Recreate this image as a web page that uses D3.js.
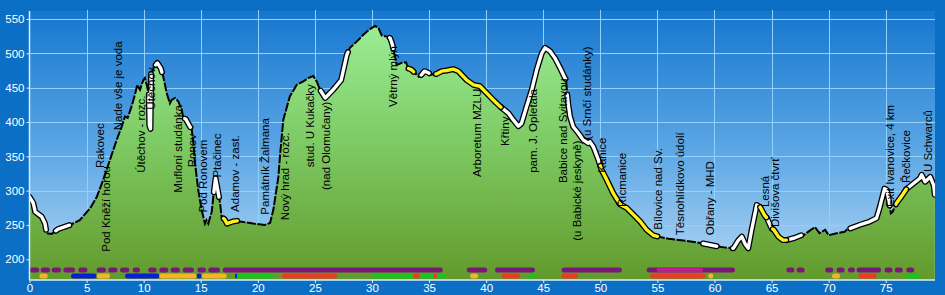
<!DOCTYPE html>
<html>
<head>
<meta charset="utf-8">
<script src="https://cdn.jsdelivr.net/npm/d3@7"></script>
<style>
  body { margin: 0; background: #0b6fc5; }
  svg { display: block; }
  text { font-family: "Liberation Sans", Arial, sans-serif; }
</style>
</head>
<body>
<script>
// profile of the route: distance (km) and elevation (m)
var trackKm = [0, 0.33, 0.5, 1.07, 1.36, 1.5, 1.94, 2.5, 3.0, 3.55, 4.4, 5.3, 5.9, 6.46, 7.05, 7.64,
  8.07, 8.37, 8.6, 8.95, 9.24, 9.44, 9.68, 9.97, 10.1, 10.3, 10.45, 10.5, 10.6, 10.65, 10.9, 11.2,
  11.5, 11.72, 12.02, 12.3, 12.45, 12.75, 13.03, 13.33, 13.47, 13.7, 14.06, 14.2, 14.35, 14.5, 14.78,
  15.08, 15.37, 15.5, 15.66, 15.96, 16.1, 16.3, 16.5, 16.69, 16.83, 17.1, 17.3, 17.8, 18.2, 18.44,
  19.6, 20.6, 21.07, 21.36, 21.8, 21.94, 22.23, 22.8, 23.4, 23.98, 24.4, 24.86, 25.16, 25.45, 25.9,
  26.6, 27.3, 27.8, 28.07, 28.66, 29.24, 29.8, 30.26, 30.56, 30.85, 31.4, 31.6, 31.8, 31.87, 32.02,
  32.16, 32.6, 32.98, 33.18, 33.48, 33.77, 34.1, 34.35, 34.6, 34.9, 35.2, 35.65, 36.1, 36.54, 37.12,
  37.56, 38.3, 38.9, 39.46, 40.05, 40.63, 41.2, 41.94, 42.38, 42.82, 43.1, 43.55, 44.0, 44.43, 44.87,
  45.16, 45.6, 46.03, 46.47, 46.9, 47.0, 47.1, 47.2, 47.35, 47.63, 48.07, 48.5, 48.95, 49.1, 49.39,
  49.83, 50.12, 50.56, 51.14, 51.73, 52.3, 52.9, 53.5, 54.06, 54.64, 55.08, 56.0, 57.5, 59.0, 60.2,
  61.0, 61.65, 62.1, 62.4, 62.7, 62.96, 63.26, 63.7, 64.0, 64.4, 64.6, 65.0, 65.2, 65.6, 66.0, 66.3,
  67.0, 67.6, 67.8, 68.2, 68.8, 69.2, 69.7, 70.0, 70.7, 71.4, 71.7, 71.9, 72.7, 73.6, 74.2, 74.5,
  74.9, 75.1, 75.3, 75.45, 75.6, 75.95, 76.4, 76.8, 77.4, 78.0, 78.15, 78.45, 78.9, 79.2, 79.3];
var trackElev = [291, 282, 269, 262, 252, 238, 237, 244, 247, 250, 257, 274, 291, 316, 345, 374,
  393, 408, 406, 423, 440, 454, 447, 461, 464, 452, 440, 395, 390, 470, 480, 486,
  478, 466, 442, 427, 432, 435, 430, 418, 406, 404, 393, 391, 370, 340, 301,
  272, 252, 257, 252, 269, 291, 318, 300, 282, 262, 258, 252, 255, 256, 255,
  252, 250, 253, 272, 320, 350, 403, 437, 454, 459, 464, 467, 459, 447, 435,
  447, 461, 498, 508, 517, 527, 535, 540, 537, 526, 524, 522, 512, 505, 495,
  483, 486, 487, 478, 476, 471, 466, 469, 474, 472, 469, 470, 474, 475, 477,
  474, 461, 454, 452, 442, 432, 423, 413, 403, 394, 398, 423, 447, 476, 500,
  508, 503, 493, 479, 464, 462, 440, 425, 408, 393, 384, 374, 369, 371, 364,
  345, 330, 316, 296, 280, 275, 265, 255, 243, 235, 233, 230, 227, 223, 219,
  217, 216, 228, 233, 222, 216, 243, 279, 276, 264, 260, 245, 243, 233, 228, 228,
  231, 235, 235, 240, 247, 238, 243, 235, 238, 240, 245, 245, 250, 255, 260, 277,
  303, 301, 284, 267, 269, 282, 292, 302, 310, 318, 323, 313, 320, 308, 294];

// surface of the road along the profile (km from, km to)
var pavedRanges = [[0, 1.45], [2.3, 3.5], [10.45, 10.65], [11.05, 11.6], [13.6, 14.1], [16.15, 16.6],
  [25.5, 27.9], [31.55, 31.85], [34.3, 35.0], [41.3, 46.95], [47.1, 50.0], [59.0, 60.2],
  [61.6, 64.0], [64.55, 65.1], [66.3, 67.6], [71.9, 75.35], [76.8, 79.3]];
var gravelRanges = [[17.0, 18.2], [33.2, 33.65], [35.6, 41.3], [50.0, 55.0], [64.0, 64.55],
  [65.1, 66.3], [75.9, 76.8]];

// trail markings under the profile
var cycleRows = [[0, 0.86, "cycle"], [0.98, 1.8, "cycle"], [1.94, 2.76, "cycle"], [2.96, 3.99, "cycle"],
  [4.28, 5.07, "cycle"], [5.88, 6.7, "cycle"], [6.9, 7.7, "cycle"], [7.93, 8.74, "cycle"],
  [9.04, 9.68, "cycle"], [10.4, 11.14, "cycle"], [11.37, 12.16, "cycle"], [12.37, 13.18, "cycle"],
  [13.42, 14.41, "cycle"], [14.7, 15.46, "cycle"], [15.66, 16.69, "cycle"], [16.92, 36.2, "cycle"],
  [38.3, 40.1, "cycle"], [40.78, 44.28, "cycle"], [46.6, 51.9, "cycle"], [54.06, 61.8, "cycle"],
  [54.94, 59.0, "cycle2"], [66.3, 67.0, "cycle"], [67.2, 67.9, "cycle"], [69.7, 70.4, "cycle"],
  [70.7, 71.4, "cycle"], [71.7, 72.3, "cycle"], [72.45, 74.6, "cycle"], [74.9, 75.6, "cycle"],
  [75.8, 76.5, "cycle"], [76.8, 77.5, "cycle"]];
var hikeRows = [[0.86, 1.59, "yellow"], [3.64, 5.88, "blue"], [5.88, 7.05, "yellow"],
  [8.37, 11.37, "blue"], [11.37, 14.64, "yellow"], [14.64, 15.08, "blue"], [15.08, 17.27, "yellow"],
  [18.0, 18.2, "blue"], [18.2, 21.36, "green"], [22.1, 26.96, "red"], [29.97, 33.6, "green"],
  [33.6, 34.2, "red"], [34.2, 35.4, "green"], [35.4, 35.7, "red"], [35.7, 36.5, "green"],
  [38.6, 39.3, "yellow"], [41.36, 42.97, "red"], [43.7, 44.4, "green"], [46.6, 48.07, "red"],
  [54.35, 59.2, "red"], [59.46, 59.9, "yellow"], [70.3, 71.0, "yellow"], [72.6, 74.2, "red"],
  [76.67, 78.0, "green"]];

// waypoints: name, km, elevation where the label starts
var wpName = ["Rakovec", "Pod Kněží horou", "Nade vše je voda", "Útěchov - rozc.", "Útěchov",
  "Mufloní studánka", "Ronov", "Pod Ronovem", "Ptačinec", "Adamov - zast.", "Památník Žalmana",
  "Nový hrad - rozc.", "stud. U Kukačky", "(nad Olomučany)", "Větrný mlýn", "Arboretum MZLU",
  "Křtiny", "pam. J. Opletala", "Babice nad Svitavou", "(u Babické jeskyně)", "(u Srnčí studánky)",
  "Kanice", "Řícmanice", "Bílovice nad Sv.", "Těsnohlídkovo údolí", "Obřany - MHD", "Lesná",
  "Divišova čtvrť", "Exit Ivanovice, 4 km", "Řečkovice", "U Schwarců"];
var wpKm = [6.18, 6.7, 7.75, 9.77, 10.64, 13.0, 14.23, 15.2, 16.42, 18.0, 20.63, 22.38, 24.57, 25.97,
  31.84, 39.2, 41.65, 44.1, 46.73, 47.96, 48.84, 50.15, 51.9, 55.05, 56.98, 59.6, 64.4, 65.3,
  75.35, 76.8, 78.7];
var wpLabelElev = [333, 211, 388, 326, 418, 297, 334, 268, 319, 269, 265, 257, 334, 301, 422, 320,
  365, 326, 311, 227, 374, 326, 276, 243, 235, 235, 276, 247, 276, 311, 327];

var xTicks = [0, 5, 10, 15, 20, 25, 30, 35, 40, 45, 50, 55, 60, 65, 70, 75];
var yTicks = [200, 250, 300, 350, 400, 450, 500, 550];

var width = 945, height = 295;
var plot = { left: 29.5, right: 935, top: 11, bottom: 280 };

var x = d3.scaleLinear().domain([0, 75]).range([29.5, 885.7]);
var y = d3.scaleLinear().domain([200, 550]).range([259.3, 19]);

var markColor = { cycle: "#7a1878", cycle2: "#b8208a", yellow: "#f2b52a", blue: "#0a1ed2",
  green: "#1ec21e", red: "#ea3c22" };

var points = trackKm.map(function (k, i) { return { km: k, elev: trackElev[i] }; });

function elevAt(k) {
  for (var i = 0; i < points.length - 1; i++) {
    if (k >= points[i].km && k <= points[i + 1].km) {
      var t = (k - points[i].km) / (points[i + 1].km - points[i].km);
      return points[i].elev + t * (points[i + 1].elev - points[i].elev);
    }
  }
  return points[points.length - 1].elev;
}
function piece(a, b) {
  var out = [{ km: a, elev: elevAt(a) }];
  points.forEach(function (p) { if (p.km > a && p.km < b) out.push(p); });
  out.push({ km: b, elev: elevAt(b) });
  return out;
}

var svg = d3.select("body").append("svg")
  .attr("width", width)
  .attr("height", height);

var defs = svg.append("defs");
var sky = defs.append("linearGradient").attr("id", "sky")
  .attr("gradientUnits", "userSpaceOnUse")
  .attr("x1", 0).attr("y1", plot.top).attr("x2", 0).attr("y2", plot.bottom);
sky.append("stop").attr("offset", 0).attr("stop-color", "#1677cf");
sky.append("stop").attr("offset", 0.5).attr("stop-color", "#5aa5e4");
sky.append("stop").attr("offset", 1).attr("stop-color", "#b4d8f4");

var grass = defs.append("linearGradient").attr("id", "grass")
  .attr("gradientUnits", "userSpaceOnUse")
  .attr("x1", 0).attr("y1", 20).attr("x2", 0).attr("y2", plot.bottom);
grass.append("stop").attr("offset", 0).attr("stop-color", "#9cee98");
grass.append("stop").attr("offset", 0.45).attr("stop-color", "#7fcc66");
grass.append("stop").attr("offset", 1).attr("stop-color", "#629a2c");

defs.append("clipPath").attr("id", "clip")
  .append("rect")
  .attr("x", plot.left).attr("y", plot.top)
  .attr("width", plot.right - plot.left).attr("height", plot.bottom - plot.top);

// plot background
svg.append("rect")
  .attr("x", plot.left).attr("y", plot.top)
  .attr("width", plot.right - plot.left).attr("height", plot.bottom - plot.top)
  .attr("fill", "url(#sky)");

// grid
svg.append("g").selectAll("line")
  .data(yTicks)
  .enter().append("line")
  .attr("x1", plot.left).attr("x2", plot.right)
  .attr("y1", function (d) { return Math.round(y(d)) + 0.5; })
  .attr("y2", function (d) { return Math.round(y(d)) + 0.5; })
  .attr("stroke", "#8fd2ff").attr("stroke-width", 1);
svg.append("g").selectAll("line")
  .data(xTicks.slice(1))
  .enter().append("line")
  .attr("x1", function (d) { return Math.round(x(d)) + 0.5; })
  .attr("x2", function (d) { return Math.round(x(d)) + 0.5; })
  .attr("y1", plot.top - 1).attr("y2", plot.bottom)
  .attr("stroke", "#8fd2ff").attr("stroke-width", 1);

var g = svg.append("g").attr("clip-path", "url(#clip)");

// terrain
var area = d3.area()
  .x(function (d) { return x(d.km); })
  .y0(plot.bottom)
  .y1(function (d) { return y(d.elev); });
g.append("path").datum(points).attr("d", area).attr("fill", "url(#grass)");

// trail marks
function marks(data, cy) {
  g.append("g").selectAll("rect")
    .data(data)
    .enter().append("rect")
    .attr("x", function (d) { return x(d[0]); })
    .attr("width", function (d) { return x(d[1]) - x(d[0]); })
    .attr("y", cy - 2.5).attr("height", 5)
    .attr("rx", 2.5)
    .attr("fill", function (d) { return markColor[d[2]]; });
}
marks(cycleRows, 270);
marks(hikeRows, 276);

// profile line
var line = d3.line()
  .x(function (d) { return x(d.km); })
  .y(function (d) { return y(d.elev); });
g.append("path").datum(points).attr("d", line)
  .attr("fill", "none").attr("stroke", "#000").attr("stroke-width", 2)
  .attr("stroke-dasharray", "9,1.5");

function surface(ranges, color) {
  var s = g.append("g");
  ranges.forEach(function (r) {
    var pts = piece(r[0], r[1]);
    s.append("path").datum(pts).attr("d", line)
      .attr("fill", "none").attr("stroke", "#000").attr("stroke-width", 6)
      .attr("stroke-linejoin", "round").attr("stroke-linecap", "round");
    s.append("path").datum(pts).attr("d", line)
      .attr("fill", "none").attr("stroke", color).attr("stroke-width", 3.4)
      .attr("stroke-linejoin", "round").attr("stroke-linecap", "round");
  });
}
surface(pavedRanges, "#ffffff");
surface(gravelRanges, "#fff21a");

// waypoint labels
svg.append("g").selectAll("text")
  .data(wpName)
  .enter().append("text")
  .attr("transform", function (d, i) {
    return "translate(" + x(wpKm[i]) + "," + y(wpLabelElev[i]) + ") rotate(-90)";
  })
  .attr("dy", "0.35em")
  .attr("font-size", "11.5px")
  .attr("fill", "#000")
  .text(function (d) { return d; });

// axes
var axisColor = "#d6efff";
var yAxis = svg.append("g")
  .attr("transform", "translate(" + plot.left + ",0)")
  .call(d3.axisLeft(y).tickValues(yTicks).tickSize(3).tickPadding(2));
var xAxis = svg.append("g")
  .attr("transform", "translate(0," + plot.bottom + ")")
  .call(d3.axisBottom(x).tickValues(xTicks).tickSize(3).tickPadding(1));
[xAxis, yAxis].forEach(function (a) {
  a.select(".domain").remove();
  a.selectAll("line").attr("stroke", axisColor);
  a.selectAll("text").attr("fill", "#fff").attr("font-size", "11.5px")
    .attr("font-family", "\"Liberation Sans\", Arial, sans-serif");
});
svg.append("line")
  .attr("x1", plot.left).attr("x2", plot.left)
  .attr("y1", plot.top).attr("y2", plot.bottom)
  .attr("stroke", axisColor).attr("stroke-width", 1.5);
svg.append("line")
  .attr("x1", plot.left).attr("x2", plot.right)
  .attr("y1", plot.bottom).attr("y2", plot.bottom)
  .attr("stroke", axisColor).attr("stroke-width", 1.5);
</script>
</body>
</html>
